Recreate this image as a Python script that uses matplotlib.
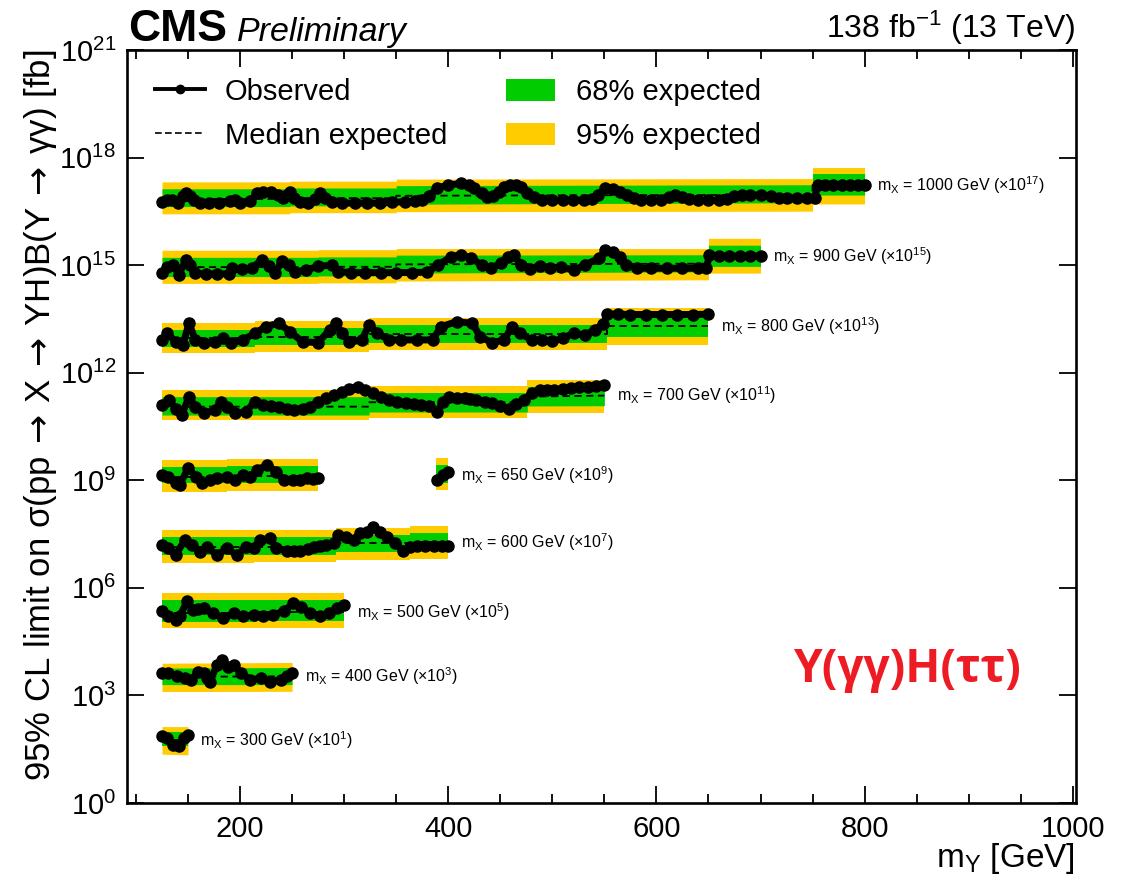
import numpy as np
import matplotlib
matplotlib.use("Agg")
import matplotlib.pyplot as plt
from matplotlib.lines import Line2D
from matplotlib.patches import Patch
from matplotlib.ticker import FixedLocator, MultipleLocator, NullLocator, FuncFormatter

plt.rcParams['font.family'] = ['Liberation Sans', 'DejaVu Sans']
plt.rcParams['mathtext.fontset'] = 'custom'
plt.rcParams['mathtext.rm'] = 'Liberation Sans'
plt.rcParams['mathtext.it'] = 'Liberation Sans:italic'
plt.rcParams['mathtext.bf'] = 'Liberation Sans:bold'

# ---------------- data (limits in fb, before scaling) ----------------
# mX = 1000 GeV (x1e17)
my_obs_1000 = [125,130,135,140,145,148,152,156,162,170,180,190,195,200,210,216,222,230,236,241,245,248,252,258,265,272,277,282,288,298,310,322,334,346,358,368,375,382,389,400,412,420,425,432,437,443,449,454,459,465,470,476,482,490,500,510,520,530,538,544,551,558,565,572,578,585,595,604,612,618,625,631,640,650,660,668,675,682,690,700,710,718,725,735,745,752,755,762,770,778,786,794,800]
obs_1000 = [0.59,0.65,0.65,0.54,0.85,1.0,0.85,0.65,0.55,0.54,0.54,0.61,0.65,0.54,0.61,1.0,1.12,1.1,0.9,0.75,0.9,1.12,0.75,0.58,0.54,0.7,1.0,0.75,0.58,0.54,0.54,0.54,0.54,0.57,0.58,0.6,0.65,0.85,1.41,1.71,1.91,1.71,1.41,1.03,0.81,0.85,1.1,1.5,1.71,1.71,1.5,1.0,0.8,0.65,0.65,0.65,0.65,0.65,0.68,0.9,1.39,1.37,1.12,0.9,0.73,0.64,0.64,0.65,0.82,0.9,0.79,0.69,0.64,0.64,0.64,0.68,0.85,0.9,0.9,0.9,0.85,0.74,0.73,0.73,0.73,0.77,1.71,1.71,1.71,1.71,1.71,1.71,1.71]
my_exp_1000 = [125,248,248,350,350,750,750,800]
m2_1000 = [0.27,0.27,0.29,0.29,0.31,0.32,0.51,0.51]
m1_1000 = [0.43,0.43,0.45,0.45,0.50,0.55,0.90,0.90]
med_1000 = [0.70,0.70,0.74,0.74,0.86,0.92,1.72,1.72]
p1_1000 = [1.35,1.35,1.42,1.42,1.65,1.75,3.6,3.6]
p2_1000 = [2.1,2.1,2.2,2.2,2.5,2.6,5.3,5.3]

# mX = 900 GeV (x1e15)
my_obs_900 = [125,130,136,141,148,152,157,167,178,189,192,202,211,221,228,234,240,247,253,263,275,288,294,307,320,335,350,365,380,390,403,412,422,432,441,451,457,463,470,479,488,498,508,521,531,545,551,558,565,571,581,595,610,625,640,648,651,660,670,680,690,700]
obs_900 = [0.59,0.91,1.0,0.53,1.4,1.0,0.59,0.57,0.57,0.57,0.82,0.78,0.82,1.4,0.93,0.59,1.3,1.0,0.66,0.72,0.93,1.0,0.66,0.62,0.62,0.62,0.62,0.62,0.64,1.0,1.73,1.93,1.6,1.0,0.82,1.15,1.73,1.93,1.0,0.8,0.95,0.82,0.9,0.73,1.0,1.56,2.6,2.4,1.73,1.0,0.82,0.82,0.82,0.82,0.82,0.82,1.93,1.8,1.8,1.8,1.8,1.8]
my_exp_900 = [125,275,275,350,350,650,650,700]
m2_900 = [0.31,0.31,0.32,0.32,0.36,0.39,0.6,0.6]
m1_900 = [0.48,0.48,0.5,0.5,0.6,0.65,0.92,0.92]
med_900 = [0.88,0.88,0.9,0.9,1.05,1.1,1.8,1.8]
p1_900 = [1.65,1.65,1.7,1.7,1.9,1.95,3.6,3.6]
p2_900 = [2.6,2.6,2.7,2.7,2.9,2.9,5.6,5.6]

# mX = 800 GeV (x1e13)
my_obs_800 = [125,130,138,145,151,157,165,176,184,191,203,214,225,237,248,260,275,286,292,298,305,317,324,332,343,355,370,385,393,408,423,431,442,454,461,469,480,490,500,510,521,531,541,549,553,563,575,590,605,620,635,650]
obs_800 = [0.82,1.26,0.73,0.6,2.4,0.82,0.66,0.73,0.91,0.66,0.82,1.26,1.93,2.4,1.4,0.73,0.69,1.56,2.4,1.26,0.73,0.82,2.15,1.26,0.82,0.82,0.82,0.82,1.93,2.65,2.4,1.0,0.69,0.82,1.93,1.26,0.82,0.8,0.75,0.9,1.3,1.1,1.6,2.3,4.3,4.3,4.2,4.2,4.2,4.2,4.2,4.3]
my_exp_800 = [125,214,214,324,324,553,553,650]
m2_800 = [0.35,0.35,0.38,0.38,0.43,0.43,0.61,0.61]
m1_800 = [0.53,0.53,0.58,0.58,0.66,0.66,1.0,1.0]
med_800 = [0.9,0.9,0.98,0.98,1.2,1.2,2.0,2.0]
p1_800 = [1.56,1.56,1.75,1.75,2.15,2.15,4.1,4.1]
p2_800 = [2.4,2.4,2.7,2.7,3.3,3.3,6.2,6.2]

# mX = 700 GeV (x1e11)
my_obs_700 = [125,132,138,144,151,157,165,176,182,187,195,206,214,222,230,237,245,252,260,267,275,283,290,298,305,313,320,328,335,343,351,359,367,374,382,389,395,401,408,416,421,427,435,442,450,458,465,473,480,488,495,502,510,518,526,534,542,550]
obs_700 = [1.26,1.73,1.0,0.66,2.15,1.13,0.74,0.91,1.56,1.13,0.74,0.82,1.56,1.26,1.2,1.13,1.0,0.91,1.0,1.13,1.5,1.93,2.4,2.96,3.5,4.08,3.4,2.67,2.1,1.73,1.55,1.4,1.3,1.26,1.2,0.82,1.5,2.15,2.0,1.93,1.8,1.73,1.55,1.4,1.2,1.0,1.3,1.73,2.67,3.2,3.3,3.4,3.5,3.7,3.9,4.1,4.3,4.5]
my_exp_700 = [125,324,324,476,476,550]
m2_700 = [0.48,0.48,0.55,0.55,0.74,0.74]
m1_700 = [0.66,0.66,0.8,0.8,1.18,1.2]
med_700 = [1.13,1.13,1.5,1.5,2.15,2.3]
p1_700 = [2.15,2.15,2.8,2.8,4.1,4.1]
p2_700 = [3.3,3.3,4.2,4.2,6.1,6.1]

# mX = 650 GeV (x1e9), two scan ranges
my_obs_650a = [125,131,138,142,150,158,163,171,178,187,195,203,210,216,226,235,242,251,258,264,270,275]
obs_650a = [1.4,1.26,0.82,0.74,2.16,1.26,0.82,1.0,1.13,1.26,1.0,1.4,1.26,1.93,2.67,1.73,1.0,1.0,1.05,1.13,1.1,1.13]
my_exp_650a = [125,187,187,275]
m2_650a = [0.48,0.48,0.5,0.5]
m1_650a = [0.82,0.82,0.85,0.85]
med_650a = [1.25,1.25,1.3,1.3]
p1_650a = [2.4,2.4,2.5,2.5]
p2_650a = [3.6,3.6,3.9,3.9]
my_obs_650b = [389,395,400]
obs_650b = [1.0,1.4,1.73]
my_exp_650b = [388,400]
m2_650b = [0.54,0.54]
m1_650b = [0.85,0.85]
med_650b = [1.35,1.35]
p1_650b = [2.6,2.6]
p2_650b = [4.1,4.1]

# mX = 600 GeV (x1e7)
my_obs_600 = [125,131,138,147,154,162,168,178,187,197,206,213,219,229,235,245,252,258,265,271,277,283,290,294,302,309,315,322,328,334,341,349,357,363,370,378,386,394,400]
obs_600 = [1.57,1.26,0.82,2.16,1.57,1.0,1.4,0.82,1.26,0.82,1.4,1.26,2.16,2.4,1.26,1.1,1.1,1.1,1.25,1.4,1.5,1.57,1.73,2.95,2.67,2.16,3.3,3.68,4.9,3.68,2.67,1.73,1.1,1.4,1.47,1.47,1.47,1.47,1.47]
my_exp_600 = [125,213,213,292,292,363,363,400]
m2_600 = [0.48,0.48,0.52,0.52,0.6,0.6,0.62,0.62]
m1_600 = [0.82,0.82,0.85,0.85,1.0,1.0,1.05,1.05]
med_600 = [1.35,1.35,1.4,1.4,1.8,1.8,1.9,1.9]
p1_600 = [2.6,2.6,2.7,2.7,3.0,3.0,3.3,3.3]
p2_600 = [4.0,4.0,4.2,4.2,4.6,4.6,5.3,5.3]

# mX = 500 GeV (x1e5)
my_obs_500 = [125,131,138,142,149,155,160,165,174,184,194,203,213,222,232,242,251,259,267,277,285,293,300]
obs_500 = [2.19,1.59,1.28,1.59,4.17,2.44,2.6,2.7,1.97,1.43,1.97,1.59,1.78,1.59,1.78,2.19,3.75,3.0,1.97,1.59,1.97,2.7,3.37]
my_exp_500 = [125,216,216,300]
m2_500 = [0.75,0.75,0.78,0.78]
m1_500 = [1.15,1.15,1.2,1.2]
med_500 = [2.0,2.0,2.1,2.1]
p1_500 = [4.5,4.5,4.7,4.7]
p2_500 = [7.0,7.0,7.3,7.3]

# mX = 400 GeV (x1e3)
my_obs_400 = [125,131,139,147,153,160,165,168,171,178,183,188,194,201,210,220,229,239,245,250]
obs_400 = [4.2,4.3,3.4,3.0,2.72,4.6,4.2,3.0,2.44,7.1,9.8,6.4,7.1,4.2,2.72,3.0,2.44,2.72,3.4,4.2]
my_exp_400 = [125,250]
m2_400 = [1.28,1.3]
m1_400 = [2.0,2.0]
med_400 = [3.3,3.4]
p1_400 = [5.8,6.0]
p2_400 = [7.9,8.3]

# mX = 300 GeV (x1e1)
my_obs_300 = [125,130,136,141,146,150]
obs_300 = [7.2,6.5,4.2,3.8,6.5,8.0]
my_exp_300 = [125,150]
m2_300 = [2.3,2.2]
m1_300 = [3.8,3.8]
med_300 = [5.8,5.8]
p1_300 = [9.8,9.8]
p2_300 = [13.5,13.5]

mass_labels = ["1000", "900", "800", "700", "650", "650", "600", "500", "400", "300"]
scale_exps = [17, 15, 13, 11, 9, 9, 7, 5, 3, 1]
show_label = [True, True, True, True, False, True, True, True, True, True]

x_ticks = [200, 400, 600, 800, 1000]
y_tick_exps = [0, 3, 6, 9, 12, 15, 18, 21]

segments = [
    (my_obs_1000, obs_1000, my_exp_1000, m2_1000, m1_1000, med_1000, p1_1000, p2_1000),
    (my_obs_900, obs_900, my_exp_900, m2_900, m1_900, med_900, p1_900, p2_900),
    (my_obs_800, obs_800, my_exp_800, m2_800, m1_800, med_800, p1_800, p2_800),
    (my_obs_700, obs_700, my_exp_700, m2_700, m1_700, med_700, p1_700, p2_700),
    (my_obs_650a, obs_650a, my_exp_650a, m2_650a, m1_650a, med_650a, p1_650a, p2_650a),
    (my_obs_650b, obs_650b, my_exp_650b, m2_650b, m1_650b, med_650b, p1_650b, p2_650b),
    (my_obs_600, obs_600, my_exp_600, m2_600, m1_600, med_600, p1_600, p2_600),
    (my_obs_500, obs_500, my_exp_500, m2_500, m1_500, med_500, p1_500, p2_500),
    (my_obs_400, obs_400, my_exp_400, m2_400, m1_400, med_400, p1_400, p2_400),
    (my_obs_300, obs_300, my_exp_300, m2_300, m1_300, med_300, p1_300, p2_300),
]

GREEN = '#00cc00'
YELLOW = '#ffcc00'

fig = plt.figure(figsize=(11.22, 8.82), dpi=100)
ax = fig.add_axes([0.1132, 0.0896, 0.8458, 0.8537])

for seg, lab, sexp, show in zip(segments, mass_labels, scale_exps, show_label):
    myo, obs, mye, m2, m1, med, p1, p2 = seg
    s = 10.0 ** sexp
    mye = np.asarray(mye, float)
    ax.fill_between(mye, np.asarray(m2) * s, np.asarray(p2) * s, color=YELLOW, lw=0, zorder=1)
    ax.fill_between(mye, np.asarray(m1) * s, np.asarray(p1) * s, color=GREEN, lw=0, zorder=2)
    ax.plot(mye, np.asarray(med) * s, color='k', lw=1.3, ls=(0, (4, 2.5)), zorder=3)
    ax.plot(myo, np.asarray(obs) * s, color='k', lw=5, marker='o', ms=8, zorder=5,
            solid_capstyle='round', solid_joinstyle='round')
    if show:
        txt = (r"m$_{\mathregular{X}}$ = " + lab + r" GeV (×10$^{\mathregular{%d}}$)" % sexp)
        ax.text(mye[-1] + 12, med[-1] * s, txt, ha='left', va='center', fontsize=11.5, zorder=6)

ax.set_yscale('log')
ax.set_xlim(91.4, 1003.1)
ax.set_ylim(1, 1e21)
ax.xaxis.set_major_locator(FixedLocator(x_ticks))
ax.xaxis.set_minor_locator(MultipleLocator(50))
ax.yaxis.set_major_locator(FixedLocator([10.0 ** k for k in y_tick_exps]))
ax.yaxis.set_minor_locator(NullLocator())
ax.yaxis.set_major_formatter(FuncFormatter(lambda v, p: r'$\mathregular{10^{%d}}$' % int(round(np.log10(v)))))
ax.xaxis.set_major_formatter(FuncFormatter(lambda v, p: '%d' % v))
ax.tick_params(which='both', direction='in', top=True, right=True, width=1.3, labelsize=21)
ax.tick_params(which='major', length=12)
ax.tick_params(which='minor', length=6.5)
ax.tick_params(axis='x', pad=9)
ax.tick_params(axis='y', pad=8)
for sp in ax.spines.values():
    sp.set_linewidth(1.9)

# legend
h_obs = Line2D([], [], color='k', lw=2.8, marker='o', ms=6)
h_med = Line2D([], [], color='k', lw=1.2, ls=(0, (4, 2)))
h_68 = Patch(facecolor=GREEN, edgecolor='none')
h_95 = Patch(facecolor=YELLOW, edgecolor='none')
ax.legend([h_obs, h_med, h_68, h_95],
          ['Observed', 'Median expected', '68% expected', '95% expected'],
          ncol=2, loc='upper left', bbox_to_anchor=(0.0295, 0.963), frameon=False,
          fontsize=21, handlelength=1.7, handleheight=0.8, handletextpad=0.7,
          columnspacing=2.0, labelspacing=0.55, borderpad=0, borderaxespad=0)

# texts
fig.text(0.114, 0.9535, 'CMS', fontsize=32, fontweight='bold', ha='left', va='baseline')
fig.text(0.211, 0.9535, 'Preliminary', fontsize=24.5, fontstyle='italic', ha='left', va='baseline')
fig.text(0.958, 0.957, r'138 fb$^{\mathregular{-1}}$ (13 TeV)', fontsize=23, ha='right', va='baseline')
fig.text(0.0357, 0.9433,
         r'95% CL limit on σ(pp$\,\rightarrow\,$X$\,\rightarrow\,$YH)B(Y$\,\rightarrow\,$γγ) [fb]',
         rotation=90, ha='center', va='top', fontsize=25, math_fontfamily='dejavusans')
fig.text(0.958, 0.0272, r'm$_{\mathregular{Y}}$ [GeV]', ha='right', va='center', fontsize=24)
fig.text(0.809, 0.2404, 'Y(γγ)H(ττ)', color='#ed1c24', fontsize=33, fontweight='bold',
         family=['Open Sans', 'DejaVu Sans'], ha='center', va='center')

fig.savefig('out.png', dpi=100)
